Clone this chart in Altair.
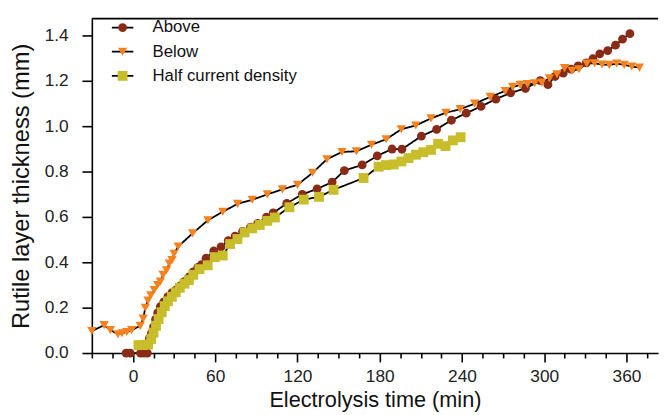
import altair as alt
import pandas as pd

# ---- data ----
above_t = [-5, -2, 5.5, 8, 10.5, 12, 13.5, 15, 16.5, 18, 20, 22.5, 25.5, 28.5, 31.5,
           34.5, 37.5, 41, 44, 47.3, 50, 53.3, 58.9, 64.2, 69.5, 74.5, 80, 85.7, 91, 97.3,
           102.3, 112.2, 123.5, 134.3, 145.3, 154.2, 167.2, 178.2, 189, 196.2, 210.4, 221.5,
           232.3, 243.1, 253.9, 264.7, 275.5, 286.3, 297.1, 302.7, 307.9, 313.9, 319.5, 324.7,
           330.7, 335.5, 340.5, 346.3, 352, 357.1, 362.5]
above_v = [0, 0, 0, 0, 0, 0.065, 0.088, 0.115, 0.148, 0.177, 0.205, 0.226, 0.249, 0.266, 0.279,
           0.296, 0.315, 0.336, 0.358, 0.378, 0.39, 0.418, 0.45, 0.468, 0.496, 0.516, 0.537, 0.555,
           0.572, 0.599, 0.618, 0.66, 0.70, 0.724, 0.754, 0.805, 0.83, 0.87, 0.90, 0.899, 0.957,
           0.987, 1.027, 1.058, 1.088, 1.12, 1.148, 1.167, 1.202, 1.184, 1.22, 1.235, 1.252, 1.267,
           1.28, 1.298, 1.32, 1.334, 1.358, 1.385, 1.409]

below_t = [-30, -21, -16.5, -11, -8, -4.5, -1, 5.3, 7.5, 9, 11, 13, 15.5, 18, 20, 22, 24.5,
           26.5, 28.5, 30, 33, 43.5, 54.7, 65.5, 76.3, 87, 98, 109, 120, 131, 141.5, 152.5, 163,
           174, 184.7, 195.7, 206.3, 217.4, 228.3, 238.7, 249.3, 260.6, 271.5, 277, 282.5, 287.8,
           293, 298.3, 303.8, 309.3, 314.8, 320.3, 325.3, 331, 336.7, 342.2, 347.5, 352.8, 358.3,
           363.8, 369.4]
below_v = [0.097, 0.123, 0.101, 0.083, 0.087, 0.093, 0.101, 0.12, 0.152, 0.2, 0.232, 0.255,
           0.278, 0.30, 0.315, 0.345, 0.365, 0.395, 0.41, 0.438, 0.47, 0.528, 0.586, 0.623, 0.658,
           0.676, 0.70, 0.722, 0.742, 0.795, 0.855, 0.887, 0.89, 0.919, 0.943, 0.987, 1.004, 1.035,
           1.06, 1.076, 1.10, 1.13, 1.156, 1.174, 1.183, 1.186, 1.19, 1.193, 1.212, 1.23, 1.257,
           1.245, 1.252, 1.277, 1.278, 1.273, 1.271, 1.277, 1.271, 1.264, 1.259]

half_t = [4, 7.5, 11, 13.3, 15, 16.8, 18.7, 21, 23.2, 25.5, 28.3, 31.2, 34.2, 37.5, 40.8, 44,
          48.5, 54.5, 59.7, 65.5, 70.9, 76.2, 81.4, 87, 92.5, 98, 103.5, 114.1, 124.6, 135.7,
          146.3, 168.2, 179.2, 184.5, 190.2, 195.8, 201, 206.4, 211.8, 217.4, 222.6, 228, 233.4, 239]
half_v = [0.035, 0.035, 0.037, 0.062, 0.09, 0.12, 0.15, 0.18, 0.207, 0.228, 0.248, 0.268, 0.288,
          0.306, 0.322, 0.345, 0.37, 0.387, 0.423, 0.43, 0.481, 0.503, 0.532, 0.55, 0.565, 0.583,
          0.598, 0.643, 0.677, 0.689, 0.72, 0.772, 0.822, 0.829, 0.832, 0.845, 0.86, 0.875, 0.886,
          0.896, 0.923, 0.913, 0.938, 0.952]

series_names = ["Above", "Below", "Half current density"]
series_colors = ["#8A2B18", "#F5821F", "#C8BD2A"]
series_shapes = ["circle", "triangle-down", "square"]
series_sizes = [80, 100, 70]

x_ticks = list(range(-30, 376, 15))
y_ticks = [round(i * 0.05, 2) for i in range(0, 30)]
X_DOMAIN = [-30, 383]
Y_DOMAIN = [0, 1.475]

rows = []
for name, ts, vs in zip(series_names, [above_t, below_t, half_t], [above_v, below_v, half_v]):
    for i, (t, v) in enumerate(zip(ts, vs)):
        rows.append({"series": name, "series_line": name, "t": t, "v": v, "order": i})
df = pd.DataFrame(rows)

FONT = "Liberation Sans"
LEG_X, LEG_Y, LEG_ROWPAD, LEG_SIZE, LEG_FONT = 22.7, 0.5, 6.5, 70, 17

x_enc = alt.X("t:Q", scale=alt.Scale(domain=X_DOMAIN, nice=False, zero=False),
              axis=alt.Axis(values=x_ticks, title="Electrolysis time (min)",
                            labelExpr="datum.value % 60 === 0 ? datum.label : ''",
                            tickSize={"condition": {"test": "datum.value % 60 === 0", "value": 9}, "value": 5},
                            labelPadding=5.5, labelFlush=False, labelOverlap=False,
                            titlePadding=5.5, titleFontSize=22, grid=False))
y_enc = alt.Y("v:Q", scale=alt.Scale(domain=Y_DOMAIN, nice=False, zero=False),
              axis=alt.Axis(values=y_ticks, title="Rutile layer thickness (mm)",
                            labelExpr="round(datum.value*100) % 20 === 0 ? format(datum.value, '.1f') : ''",
                            tickSize={"condition": {"test": "round(datum.value*100) % 20 === 0", "value": 10}, "value": 5},
                            labelPadding=14, labelFlush=False, labelOverlap=False,
                            titlePadding=11, titleFontSize=24, grid=False))

base = alt.Chart(df)

lines = base.mark_line(color="black", strokeWidth=1.8).encode(
    x=x_enc, y=y_enc,
    order="order:Q",
    strokeDash=alt.StrokeDash("series_line:N", sort=series_names,
                              scale=alt.Scale(range=[[1, 0], [1, 0], [1, 0]]),
                              legend=alt.Legend(orient="none", legendX=LEG_X, legendY=LEG_Y, title=None,
                                                symbolType="M-2.6,0L2.6,0", symbolSize=LEG_SIZE,
                                                symbolStrokeColor="black", symbolStrokeWidth=1.8,
                                                labelExpr="' '", labelFontSize=LEG_FONT, labelFont=FONT,
                                                rowPadding=LEG_ROWPAD, padding=0, labelOffset=21.8)),
)

pt_legend = alt.Legend(orient="none", legendX=LEG_X, legendY=LEG_Y, title=None,
                       symbolSize=LEG_SIZE, labelFontSize=LEG_FONT, labelFont=FONT, labelColor="#111",
                       rowPadding=LEG_ROWPAD, padding=0, labelOffset=21.8, symbolStrokeWidth=0)
points = base.mark_point(filled=True, opacity=1).encode(
    x=x_enc, y=y_enc,
    color=alt.Color("series:N", scale=alt.Scale(domain=series_names, range=series_colors), legend=pt_legend),
    shape=alt.Shape("series:N", scale=alt.Scale(domain=series_names, range=series_shapes), legend=pt_legend),
    size=alt.Size("series:N", scale=alt.Scale(domain=series_names, range=series_sizes), legend=None),
)

top_border = alt.Chart(pd.DataFrame({"v": [Y_DOMAIN[1]]})).mark_rule(color="black", strokeWidth=1.6).encode(
    y=alt.Y("v:Q", scale=alt.Scale(domain=Y_DOMAIN, nice=False, zero=False))
)

chart = alt.layer(lines, points, top_border).properties(
    width=574, height=339,
    padding={"left": 1, "top": 7, "right": 0, "bottom": 0},
).configure_view(stroke=None).configure_axis(
    domainColor="black", domainWidth=1.6, tickColor="black", tickWidth=1.6,
    labelFont=FONT, labelFontSize=17.5, labelColor="#222",
    titleFont=FONT, titleFontWeight="normal", titleColor="#111",
).configure_legend(labelFont=FONT)

chart.save("out.html", embed_options={"renderer": "svg", "actions": False})
